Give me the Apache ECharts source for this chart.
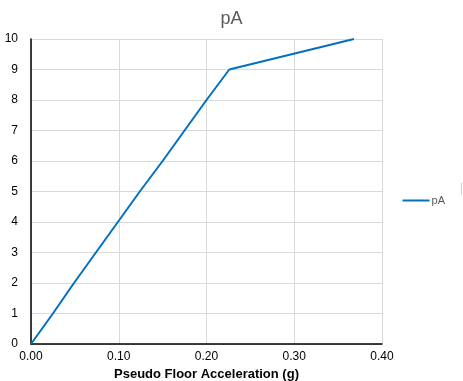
<!DOCTYPE html>
<html><head><meta charset="utf-8">
<script src="https://cdn.jsdelivr.net/npm/echarts@6/dist/echarts.min.js"></script>
<style>html,body{margin:0;padding:0;background:#fff}#c{width:463px;height:381px}</style>
</head><body><div id="c"></div>
<script>
const storeys = [0,1,2,3,4,5,6,7,8,9,10];
const pA = [0, 0.025, 0.049, 0.074, 0.099, 0.124, 0.150, 0.175, 0.200, 0.226, 0.368];
const xTicks = [0, 0.1, 0.2, 0.3, 0.4];
const seriesName = 'pA';

const chart = echarts.init(document.getElementById('c'));
const F = 'Liberation Sans, Arial, sans-serif';
chart.setOption({
  animation:false,
  textStyle:{fontFamily:F},
  title:{text:'pA', left:'center', top:5, textStyle:{color:'#595959', fontSize:18, fontWeight:'normal', fontFamily:F}},
  legend:{data:[seriesName], right:13, top:190, orient:'vertical', itemWidth:27, itemHeight:2, itemGap:4,
    icon:'rect', textStyle:{color:'#595959', fontSize:11, fontFamily:F, padding:[0,0,0,-3]}},
  grid:{left:31, right:81, top:39, bottom:37, containLabel:false, outerBoundsMode:'none'},
  xAxis:{type:'value', min:0, max:0.4, interval:0.1,
    name:'Pseudo Floor Acceleration (g)', nameLocation:'middle', nameGap:24,
    nameTextStyle:{color:'#000', fontWeight:'bold', fontSize:13, fontFamily:F},
    axisLine:{show:true, lineStyle:{color:'#000', width:1.5}}, axisTick:{show:false},
    axisLabel:{color:'#000', fontSize:12, margin:7, formatter:v=>v.toFixed(2)},
    splitLine:{show:true, lineStyle:{color:'#d9d9d9'}}},
  yAxis:{type:'value', min:0, max:10, interval:1,
    name:'Storey', nameLocation:'middle', nameGap:23,
    nameTextStyle:{color:'#000', fontWeight:'bold', fontSize:13, fontFamily:F},
    axisLine:{show:true, lineStyle:{color:'#000', width:1.5}}, axisTick:{show:false},
    axisLabel:{color:'#000', fontSize:12, margin:13},
    splitLine:{show:true, lineStyle:{color:'#d9d9d9'}}},
  series:[{name:seriesName, type:'line', data:pA.map((v,i)=>[v, storeys[i]]),
    showSymbol:false, symbol:'none', lineStyle:{color:'#0070c0', width:2}, itemStyle:{color:'#0070c0'}}],
  graphic:[{type:'line', shape:{x1:461.5, y1:183, x2:461.5, y2:195}, style:{stroke:'#d0d0d0', lineWidth:1}}]
});
</script></body></html>
